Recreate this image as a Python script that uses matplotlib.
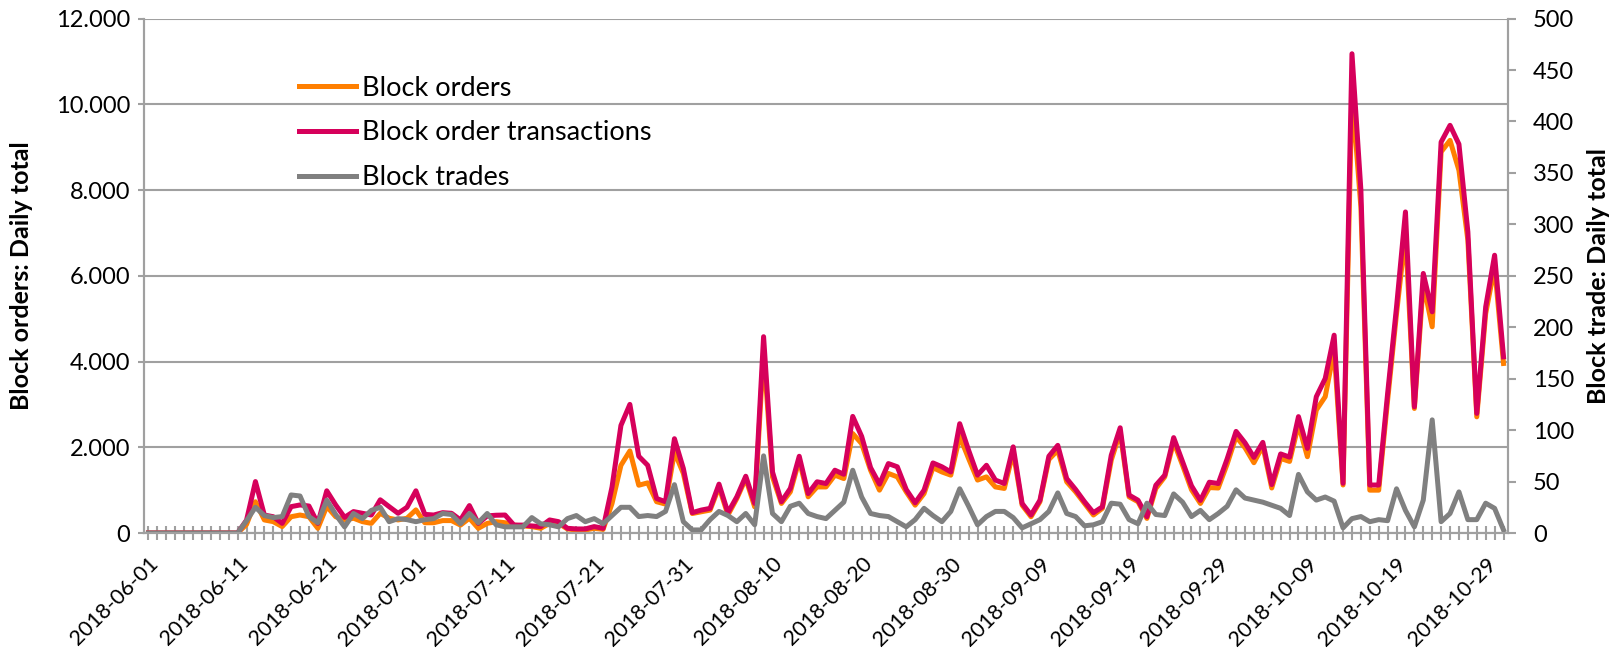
import numpy as np
import pandas as pd
from matplotlib import pyplot as plt
from matplotlib.ticker import FuncFormatter, MultipleLocator

# daily dates, 2018-06-01 .. 2018-10-31
dates = pd.date_range("2018-06-01", "2018-10-31", freq="D")

# values (left axis)
block_orders = [
    0, 0, 0, 0, 0, 0, 0, 0, 0, 0, 0,
    200, 730, 305, 265, 150, 380, 420, 380, 110, 620,
    380, 305, 345, 265, 225, 460, 345, 305, 345, 540,
    240, 240, 290, 290, 185, 345, 110, 225, 265, 240,
    185, 165, 150, 110, 225, 225, 95, 70, 70, 110,
    85, 690, 1580, 1915, 1115, 1170, 730, 675, 1890, 1390,
    455, 495, 535, 1075, 420, 805, 1270, 610, 4250, 1310,
    690, 960, 1700, 845, 1075, 1075, 1350, 1270, 2320, 2085,
    1465, 1000, 1390, 1310, 960, 650, 920, 1525, 1425, 1350,
    2255, 1735, 1235, 1310, 1075, 1040, 1890, 650, 380, 730,
    1715, 1930, 1195, 960, 690, 420, 575, 1700, 2355, 845,
    730, 340, 1040, 1310, 2125, 1580, 1010, 690, 1060, 1050,
    1610, 2250, 1990, 1640, 2030, 1050, 1740, 1670, 2530, 1780,
    2870, 3180, 4270, 1120, 10300, 7600, 1000, 1000, 3100, 5120,
    6985, 2905, 5820, 4810, 8890, 9160, 8460, 6830, 2710, 5120,
    6210, 3955,
]

block_order_transactions = [
    0, 0, 0, 0, 0, 0, 0, 0, 0, 0, 0,
    300, 1200, 420, 380, 225, 615, 655, 630, 225, 985,
    655, 365, 500, 460, 420, 775, 615, 460, 600, 985,
    435, 420, 475, 460, 305, 640, 225, 400, 415, 420,
    185, 185, 165, 150, 305, 265, 110, 95, 95, 150,
    110, 1075, 2510, 3000, 1790, 1580, 805, 730, 2200, 1505,
    475, 535, 575, 1140, 475, 845, 1325, 690, 4580, 1425,
    730, 1040, 1790, 920, 1195, 1155, 1465, 1370, 2720, 2255,
    1525, 1140, 1620, 1545, 1015, 705, 1000, 1635, 1545, 1425,
    2550, 1930, 1350, 1580, 1235, 1155, 2010, 690, 420, 765,
    1790, 2045, 1270, 1015, 730, 475, 610, 1815, 2455, 885,
    765, 380, 1115, 1350, 2225, 1660, 1100, 760, 1185, 1155,
    1730, 2370, 2105, 1765, 2115, 1130, 1845, 1770, 2715, 1975,
    3180, 3605, 4615, 1160, 11180, 8000, 1120, 1120, 3255, 5275,
    7490, 2945, 6055, 5160, 9120, 9510, 9070, 7025, 2790, 5275,
    6480, 4110,
]

# right axis
block_trades = [
    0, 0, 0, 0, 0, 0, 0, 0, 0, 0, 0,
    12, 25, 17, 15, 16, 37, 36, 16, 10, 32,
    18, 6, 19, 14, 22, 25, 11, 14, 13, 11,
    13, 14, 19, 18, 9, 19, 10, 19, 8, 6,
    6, 6, 15, 9, 8, 6, 14, 17, 11, 14,
    9, 17, 25, 25, 16, 17, 16, 21, 47, 11,
    3, 3, 13, 21, 17, 11, 19, 8, 75, 19,
    11, 26, 29, 19, 16, 14, 22, 30, 61, 35,
    19, 17, 16, 11, 6, 13, 24, 17, 11, 21,
    43, 26, 8, 16, 21, 21, 15, 5, 9, 13,
    21, 39, 19, 16, 7, 8, 11, 29, 28, 13,
    9, 29, 18, 17, 38, 30, 16, 22, 13, 19,
    26, 42, 34, 32, 30, 27, 24, 17, 57, 40,
    32, 35, 31, 5, 14, 16, 11, 13, 12, 43,
    22, 6, 32, 110, 11, 19, 40, 13, 13, 29,
    24, 3,
]

plt.rcParams["font.family"] = ["Lato", "DejaVu Sans"]
axis_grey = "#A0A0A0"
lw = 3.6

x = np.arange(len(dates))

fig = plt.figure(figsize=(16.18, 6.57), dpi=100)
ax = fig.add_axes([0.0890, 0.1887, 0.8430, 0.7830])
ax2 = ax.twinx()

l1, = ax.plot(x, block_orders, color="#FF7F00", lw=lw, solid_joinstyle="round",
              label="Block orders")
l2, = ax.plot(x, block_order_transactions, color="#D6005B", lw=lw,
              solid_joinstyle="round", label="Block order transactions")
l3, = ax2.plot(x, block_trades, color="#808080", lw=lw, solid_joinstyle="round",
               label="Block trades")

ax.set_xlim(-0.5, len(dates) - 0.5)
ax.set_ylim(0, 12000)
ax2.set_ylim(0, 500)

ax.yaxis.set_major_locator(MultipleLocator(2000))
ax.yaxis.set_major_formatter(FuncFormatter(lambda v, p: f"{int(v):,}".replace(",", ".")))
ax2.yaxis.set_major_locator(MultipleLocator(50))

ax.set_xticks(x[::10])
ax.set_xticklabels([d.strftime("%Y-%m-%d") for d in dates[::10]], rotation=45,
                   ha="right", va="top", rotation_mode="anchor")
ax.set_xticks(x, minor=True)

ax.grid(axis="y", color=axis_grey, lw=1.5)
ax.set_axisbelow(True)

for a in (ax, ax2):
    a.spines["top"].set_visible(False)
    for s in ("left", "right", "bottom"):
        a.spines[s].set_color(axis_grey)
        a.spines[s].set_linewidth(1.5)

ax.tick_params(axis="x", which="both", direction="inout", length=10, width=1.5,
               color=axis_grey, labelsize=15.5, pad=10)
ax.tick_params(axis="y", length=4, width=1.5, color=axis_grey, labelsize=17, pad=6)
ax2.tick_params(axis="y", length=6, width=1.5, color=axis_grey, labelsize=17, pad=12)

ax.set_ylabel("Block orders: Daily total", fontsize=18, fontweight="bold")
ax.yaxis.set_label_coords(-0.0814, 0.5)
ax2.set_ylabel("Block trade: Daily total", fontsize=18, fontweight="bold")
ax2.yaxis.set_label_coords(1.0583, 0.5)

ax2.legend(handles=[l1, l2, l3], loc="upper left", bbox_to_anchor=(0.114, 0.889),
           frameon=False, fontsize=19.5, handlelength=2.1, handletextpad=0.2,
           labelspacing=0.73, borderpad=0, borderaxespad=0)

fig.savefig("out.png", dpi=100)
